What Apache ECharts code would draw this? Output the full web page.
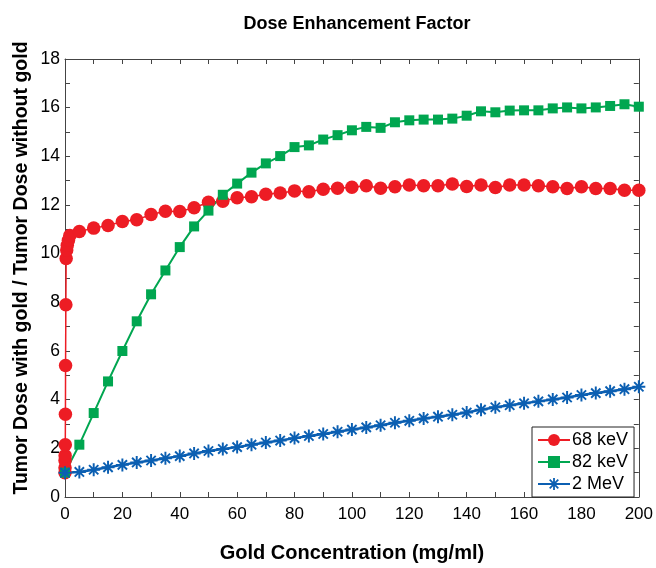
<!DOCTYPE html>
<html>
<head>
<meta charset="utf-8">
<script src="https://cdn.jsdelivr.net/npm/echarts@6/dist/echarts.min.js"></script>
<style>html,body{margin:0;padding:0;background:#fff}#c{width:656px;height:568px}</style>
</head>
<body>
<div id="c"></div>
<script>
// ---- data ----
const redX = [0, 0.01, 0.02, 0.05, 0.1, 0.15, 0.2, 0.3, 0.4, 0.6, 0.8, 1.2, 1.7,
  5, 10, 15, 20, 25, 30, 35, 40, 45, 50, 55, 60, 65, 70, 75, 80, 85, 90, 95, 100,
  105, 110, 115, 120, 125, 130, 135, 140, 145, 150, 155, 160, 165, 170, 175, 180, 185, 190, 195, 200];
const redY = [1.0, 1.2, 1.5, 1.7, 2.15, 3.4, 5.4, 7.9, 9.8, 10.15, 10.35, 10.55, 10.75,
  10.91, 11.05, 11.16, 11.32, 11.39, 11.61, 11.74, 11.73, 11.89, 12.11, 12.15, 12.30, 12.34, 12.44, 12.49, 12.58, 12.54, 12.65, 12.69, 12.73,
  12.79, 12.69, 12.75, 12.82, 12.79, 12.79, 12.86, 12.76, 12.82, 12.72, 12.82, 12.82, 12.79, 12.75, 12.68, 12.75, 12.68, 12.68, 12.61, 12.61];
const concX = [0, 5, 10, 15, 20, 25, 30, 35, 40, 45, 50, 55, 60, 65, 70, 75, 80, 85, 90, 95, 100,
  105, 110, 115, 120, 125, 130, 135, 140, 145, 150, 155, 160, 165, 170, 175, 180, 185, 190, 195, 200];
const greenY = [1.0, 2.15, 3.45, 4.75, 6.0, 7.22, 8.33, 9.31, 10.27, 11.12, 11.77, 12.42, 12.88, 13.33, 13.71, 14.01, 14.38, 14.45, 14.69, 14.87, 15.07,
  15.21, 15.17, 15.40, 15.48, 15.51, 15.51, 15.55, 15.67, 15.85, 15.81, 15.88, 15.89, 15.89, 15.97, 16.01, 15.97, 16.01, 16.07, 16.14, 16.04];
const blueY = [1.0, 1.03, 1.12, 1.22, 1.32, 1.42, 1.50, 1.59, 1.68, 1.79, 1.89, 1.97, 2.05, 2.15, 2.24, 2.32, 2.42, 2.51, 2.59, 2.68, 2.77,
  2.86, 2.95, 3.05, 3.13, 3.23, 3.30, 3.38, 3.47, 3.59, 3.69, 3.77, 3.85, 3.93, 4.01, 4.09, 4.19, 4.27, 4.35, 4.43, 4.53];
const seriesNames = ['68 keV', '82 keV', '2 MeV'];

const pair = (xs, ys) => xs.map((x, i) => [x, ys[i]]);
const asterisk = 'path://M8.5,0L11.5,0L11.5,20L8.5,20Z M0,8.5L20,8.5L20,11.5L0,11.5Z M1.8,3.9L3.9,1.8L18.2,16.1L16.1,18.2Z M16.1,1.8L18.2,3.9L3.9,18.2L1.8,16.1Z';
const FONT = 'Liberation Sans, Arial, Helvetica, sans-serif';
const axisColor = '#444';

const chart = echarts.init(document.getElementById('c'));
const baseAxis = {
  axisLine: { show: true, onZero: false, lineStyle: { color: axisColor, width: 1 } },
  axisTick: { show: true, inside: true, length: 5, lineStyle: { color: axisColor } },
  minorTick: { show: true, splitNumber: 2, length: 5, lineStyle: { color: axisColor } },
  splitLine: { show: false },
};
chart.setOption({
  animation: false,
  backgroundColor: '#fff',
  title: {
    text: 'Dose Enhancement Factor', left: 352, top: 10, textAlign: 'center',
    textStyle: { fontFamily: FONT, fontSize: 18, fontWeight: 'bold', color: '#000' }
  },
  graphic: [{
    type: 'text', x: 22, y: 268, rotation: Math.PI / 2,
    style: {
      text: 'Tumor Dose with gold / Tumor Dose without gold',
      fontFamily: FONT, fontSize: 19.5, fontWeight: 'bold', fill: '#000',
      align: 'center', verticalAlign: 'middle'
    }
  }],
  grid: { left: 65, right: 16, top: 59, bottom: 68 },
  legend: {
    orient: 'vertical', left: 532, top: 427, padding: [4, 6, 4, 5], itemGap: 4,
    itemWidth: 32, itemHeight: 15, borderColor: '#222', borderWidth: 1, backgroundColor: '#fff',
    textStyle: { fontFamily: FONT, fontSize: 18, color: '#000', padding: [0, 0, 0, -3] },
    data: seriesNames
  },
  xAxis: [
    Object.assign({}, baseAxis, {
      type: 'value', min: 0, max: 200, interval: 20, position: 'bottom',
      name: 'Gold Concentration (mg/ml)', nameLocation: 'middle', nameGap: 46,
      nameTextStyle: { fontFamily: FONT, fontSize: 20, fontWeight: 'bold', color: '#000' },
      axisLabel: { fontFamily: FONT, fontSize: 17, color: '#000', margin: 9 }
    }),
    Object.assign({}, baseAxis, {
      type: 'value', min: 0, max: 200, interval: 20, position: 'top', axisLabel: { show: false }
    })
  ],
  yAxis: [
    Object.assign({}, baseAxis, {
      type: 'value', min: 0, max: 18, interval: 2, position: 'left',
      axisLabel: { fontFamily: FONT, fontSize: 17.5, color: '#000', margin: 5 }
    }),
    Object.assign({}, baseAxis, {
      type: 'value', min: 0, max: 18, interval: 2, position: 'right', axisLabel: { show: false }
    })
  ],
  series: [
    {
      name: seriesNames[0], type: 'line', data: pair(redX, redY),
      symbol: 'circle', symbolSize: 13.5, color: '#ed1c24',
      lineStyle: { width: 1.5, color: '#ed1c24' }, itemStyle: { color: '#ed1c24' }
    },
    {
      name: seriesNames[1], type: 'line', data: pair(concX, greenY),
      symbol: 'rect', symbolSize: 10, color: '#00a650',
      lineStyle: { width: 2, color: '#00a650' }, itemStyle: { color: '#00a650' }
    },
    {
      name: seriesNames[2], type: 'line', data: pair(concX, blueY),
      symbol: asterisk, symbolSize: 13, color: '#0b5fb2',
      lineStyle: { width: 2.5, color: '#0b5fb2' },
      itemStyle: { color: '#0b5fb2' }
    }
  ]
});
</script>
</body>
</html>
